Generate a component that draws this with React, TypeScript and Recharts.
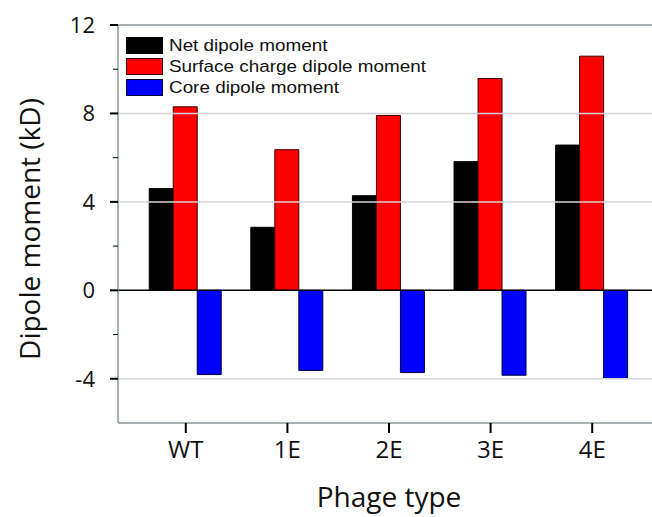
import React from 'react';
import { BarChart, Bar, XAxis, YAxis, ReferenceLine, Label } from 'recharts';

const categories = ['WT', '1E', '2E', '3E', '4E'];
const netDipole = [4.6, 2.85, 4.28, 5.82, 6.57];
const surfaceDipole = [8.3, 6.36, 7.91, 9.58, 10.59];
const coreDipole = [-3.81, -3.62, -3.72, -3.84, -3.98];

const seriesNames = ['Net dipole moment', 'Surface charge dipole moment', 'Core dipole moment'];
const seriesColors = ['#000000', '#ff0000', '#0000ff'];
const seriesStrokes = ['#000000', '#3a0000', '#00003a'];

const yTicks = [-4, -2, 0, 2, 4, 6, 8, 10, 12];
const yMajor = [-4, 0, 4, 8, 12];
const gridValues = [8, 4, -4];

const data = categories.map((c, i) => ({
  name: c,
  net: netDipole[i],
  surface: surfaceDipole[i],
  core: coreDipole[i],
}));

const keys = ['net', 'surface', 'core'];

const FONT = '"Open Sans", "Noto Sans", sans-serif';
const Y_AXIS_WIDTH = 118;

const YTick = (props: any) => {
  const { y, payload } = props;
  const ax = Y_AXIS_WIDTH;
  const major = yMajor.includes(payload.value);
  return (
    <g>
      <line x1={ax - (major ? 8 : 5)} x2={ax} y1={y} y2={y} stroke="#000" strokeWidth={major ? 2 : 1} />
      {major && (
        <text x={ax - 23} y={y} dy="0.36em" textAnchor="end" fontSize={22} fontFamily={FONT} fill="#111">
          {payload.value}
        </text>
      )}
    </g>
  );
};

const XTick = (props: any) => {
  const { x, y, payload } = props;
  return (
    <text x={x} y={y} dy="0.72em" textAnchor="middle" fontSize={24} fontFamily={FONT} fill="#111">
      {payload.value}
    </text>
  );
};

export default function App() {
  return (
    <div style={{ position: 'absolute', left: 0, top: 0, width: 652, height: 517, overflow: 'hidden', background: '#fff' }}>
      <BarChart
        width={680}
        height={517}
        data={data}
        margin={{ top: 25, right: 20, left: 0, bottom: 0 }}
        barGap={0}
        barCategoryGap="14%"
      >
        {gridValues.map((v) => (
          <ReferenceLine key={v} y={v} stroke="#d4d4d4" strokeWidth={1.5} />
        ))}
        <ReferenceLine y={12} stroke="#8e979c" strokeWidth={1.5} />
        <XAxis
          dataKey="name"
          height={94}
          padding={{ left: 17, right: 17 }}
          axisLine={{ stroke: '#8e979c', strokeWidth: 1.5 }}
          tickLine={{ stroke: '#000', strokeWidth: 2 }}
          tickSize={10}
          tickMargin={8}
          tick={<XTick />}
        >
          <Label
            content={(p: any) => {
              const vb = p.viewBox;
              return (
                <text x={vb.x + vb.width / 2} y={vb.y + 84} textAnchor="middle" fontSize={28} fontFamily={FONT} fill="#111">
                  Phage type
                </text>
              );
            }}
          />
        </XAxis>
        <YAxis
          width={Y_AXIS_WIDTH}
          domain={[-6, 12]}
          ticks={yTicks}
          interval={0}
          allowDataOverflow
          axisLine={{ stroke: '#8e979c', strokeWidth: 1.5 }}
          tickLine={false}
          tickSize={0}
          tickMargin={0}
          tick={<YTick />}
        >
          <Label
            content={(p: any) => {
              const vb = p.viewBox;
              const cx = vb.x + 30;
              const cy = vb.y + vb.height / 2 + 5;
              return (
                <text x={cx} y={cy} dy="0.35em" textAnchor="middle" fontSize={28} fontFamily={FONT} fill="#111" transform={`rotate(-90, ${cx}, ${cy})`}>
                  Dipole moment (kD)
                </text>
              );
            }}
          />
        </YAxis>
        {keys.map((k, i) => (
          <Bar key={k} dataKey={k} name={seriesNames[i]} fill={seriesColors[i]} stroke={seriesStrokes[i]} strokeWidth={1} isAnimationActive={false} />
        ))}
        <ReferenceLine y={0} stroke="#000" strokeWidth={1.5} />
      </BarChart>
      <div style={{ position: 'absolute', left: 126, top: 35, fontFamily: '"Liberation Sans", Arial, sans-serif' }}>
        {seriesNames.map((n, i) => (
          <div key={n} style={{ display: 'flex', alignItems: 'center', height: 21 }}>
            <div style={{ width: 37, height: 17, background: seriesColors[i], border: `1px solid ${seriesStrokes[i]}`, boxSizing: 'border-box' }} />
            <div style={{ marginLeft: 6, fontSize: 17, color: '#111', transform: 'scaleX(1.11)', transformOrigin: 'left center', whiteSpace: 'nowrap' }}>{n}</div>
          </div>
        ))}
      </div>
    </div>
  );
}
